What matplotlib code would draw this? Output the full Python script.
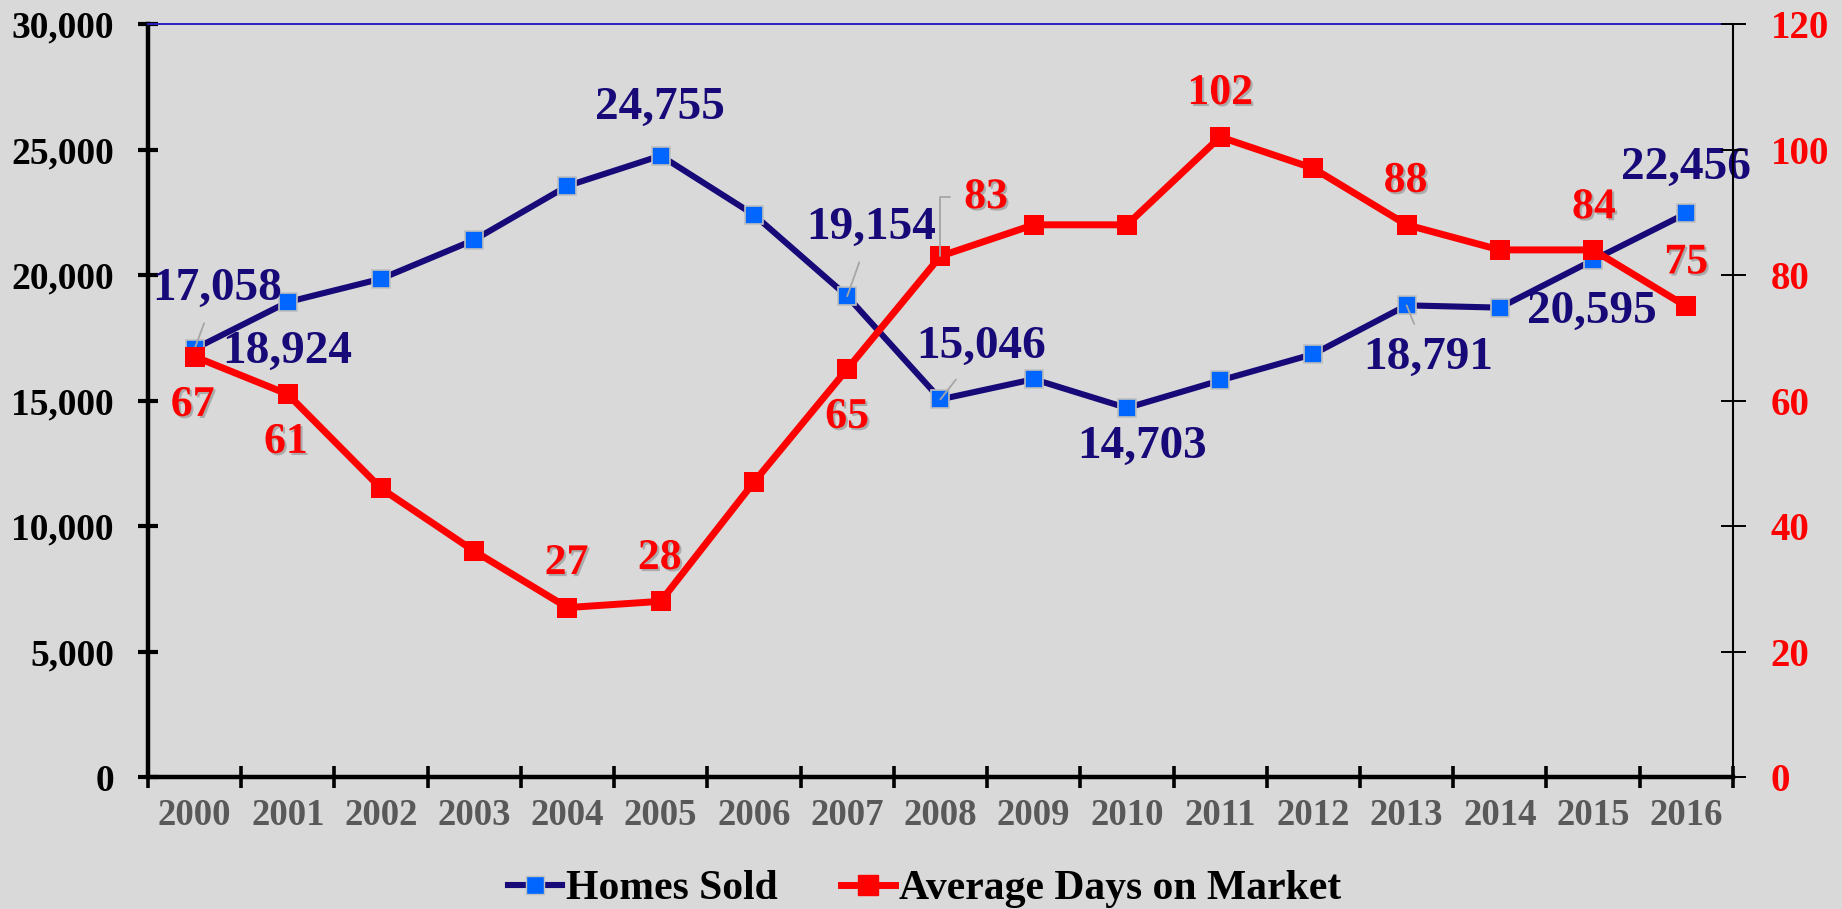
"""Homes sold vs. average days on market, 2000-2016 (dual axis line chart)."""

import matplotlib

matplotlib.use("Agg")
import matplotlib.pyplot as plt
import matplotlib.patheffects as pe
import numpy as np
from matplotlib.lines import Line2D
from matplotlib.ticker import FuncFormatter

years = [str(y) for y in range(2000, 2017)]
homes_sold = [17058, 18924, 19850, 21400, 23550, 24755, 22400, 19154, 15046,
              15850, 14703, 15800, 16850, 18791, 18700, 20595, 22456]
days_on_market = [67, 61, 46, 36, 27, 28, 47, 65, 83, 88, 88, 102, 97, 88, 84, 84, 75]

# which points get a data label
homes_labelled = [0, 1, 5, 7, 8, 10, 13, 15, 16]
days_labelled = [0, 1, 4, 5, 7, 8, 11, 13, 14, 16]

# label anchors (x index, y in axis units)
homes_label_pos = [(0.24, 19440), (0.99, 16930), (4.99, 26650), (7.26, 21870), (8.44, 17130),
                   (10.16, 13150), (13.23, 16690), (14.99, 18530), (16.0, 24260)]
days_label_pos = [(-0.02, 59.3), (0.98, 53.4), (3.99, 34.1), (4.99, 34.9), (7.0, 57.4),
                  (8.49, 92.4), (11.0, 109.0), (12.99, 95.0), (15.01, 90.8), (16.0, 82.0)]
homes_leaders = {0, 7, 8, 13}
days_leaders = {8}

NAVY = "#170a78"
BLUE = "#0066ff"
RED = "#ff0000"
BG = "#d9d9d9"

plt.rcParams["font.family"] = ["Liberation Serif", "DejaVu Serif"]
plt.rcParams["font.weight"] = "bold"

fig, ax = plt.subplots(figsize=(18.42, 9.09), dpi=100)
fig.patch.set_facecolor(BG)
ax.set_facecolor(BG)
fig.subplots_adjust(left=0.0803, right=0.9408, top=0.9736, bottom=0.1452)
ax2 = ax.twinx()
ax2.patch.set_visible(False)

x = np.arange(len(years))
ax.plot(x, homes_sold, color=NAVY, lw=4.4, marker="s", ms=12.5, mfc=BLUE,
        mec="#bfbfbf", mew=1.2, zorder=3)
ax2.plot(x, days_on_market, color=RED, lw=5.0, marker="s", ms=14.5, mfc=RED,
         mec=RED, mew=0, zorder=3)

ax.set_xlim(-0.5, len(years) - 0.5)
ax.set_ylim(0, 30000)
ax2.set_ylim(0, 120)

ax.set_yticks(np.arange(0, 30001, 5000))
ax.yaxis.set_major_formatter(FuncFormatter(lambda v, _: f"{int(v):,}"))
ax2.set_yticks(np.arange(0, 121, 20))

ax.set_xticks(x)
ax.set_xticklabels(years)
ax.set_xticks(np.arange(-0.5, len(years)), minor=True)
ax.tick_params(axis="x", which="major", length=0, pad=15, labelsize=26.5, labelcolor="#595959")
ax.tick_params(axis="x", which="minor", direction="inout", length=16, width=2.6, color="black")
ax.tick_params(axis="y", direction="inout", length=15, width=3, pad=17, labelsize=27,
               labelcolor="black")
ax2.tick_params(axis="y", direction="inout", length=18, width=1.4, pad=18, labelsize=28,
                labelcolor=RED)

for side in ("left", "bottom"):
    ax.spines[side].set_linewidth(3.2)
ax.spines["top"].set_color("#2b1fbf")
ax.spines["top"].set_linewidth(1.4)
ax.spines["right"].set_visible(False)
ax2.spines["left"].set_visible(False)
ax2.spines["bottom"].set_visible(False)
ax2.spines["top"].set_visible(False)
ax2.spines["right"].set_linewidth(1.5)

shadow = [pe.withSimplePatchShadow(offset=(1.5, -1.5), shadow_rgbFace="#8c8c8c", alpha=0.6)]
leader = dict(arrowstyle="-", color="#a6a6a6", lw=1.3, shrinkA=8, shrinkB=0)

for i, (lx, ly) in zip(homes_labelled, homes_label_pos):
    ax.annotate(f"{homes_sold[i]:,}", xy=(x[i], homes_sold[i]), xytext=(lx, ly),
                ha="center", va="center", fontsize=34, color=NAVY, zorder=5,
                arrowprops=leader if i in homes_leaders else None)

for i, (lx, ly) in zip(days_labelled, days_label_pos):
    props = None
    if i in days_leaders:
        props = dict(leader, connectionstyle="angle,angleA=0,angleB=90,rad=0")
    t = ax2.annotate(f"{days_on_market[i]}", xy=(x[i], days_on_market[i]), xytext=(lx, ly),
                     ha="center", va="center", fontsize=31.5, color=RED, zorder=5,
                     arrowprops=props)
    t.set_path_effects(shadow)

handles = [
    Line2D([], [], color=NAVY, lw=4.4, marker="s", ms=12.5, mfc=BLUE, mec="#bfbfbf"),
    Line2D([], [], color=RED, lw=5.0, marker="s", ms=14.5, mfc=RED, mec=RED),
]
fig.legend(handles, ["Homes Sold", "Average Days on Market"], loc="center",
           bbox_to_anchor=(0.502, 0.022), ncol=2, frameon=False, fontsize=30,
           handlelength=1.3, handletextpad=0.1, columnspacing=1.5)

fig.savefig("out.png", dpi=100, facecolor=fig.get_facecolor())
